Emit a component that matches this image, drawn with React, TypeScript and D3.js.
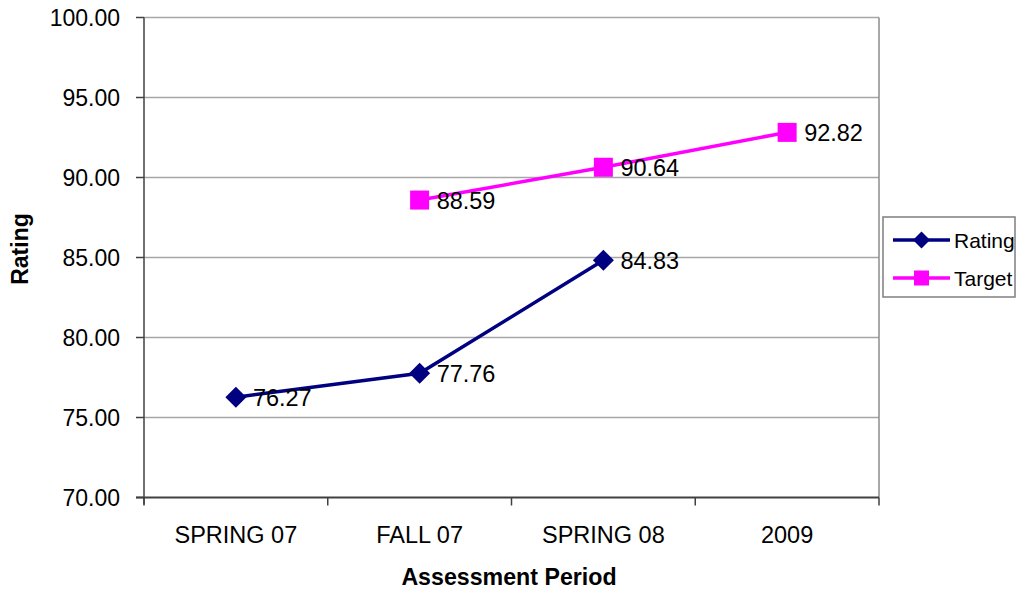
import React from "react";
import * as d3 from "d3";

const categories = ["SPRING 07", "FALL 07", "SPRING 08", "2009"];
const ratingValues: (number | null)[] = [76.27, 77.76, 84.83, null];
const targetValues: (number | null)[] = [null, 88.59, 90.64, 92.82];
const yTicks = [70, 75, 80, 85, 90, 95, 100];

const W = 1018;
const H = 594;
const plot = { left: 144, top: 17.5, right: 879, bottom: 497.5 };
const FONT = "Arial, 'Liberation Sans', Helvetica, sans-serif";
const NAVY = "#000080";
const MAGENTA = "#FF00FF";

export default function App() {
  const x = d3
    .scaleBand<string>()
    .domain(categories)
    .range([plot.left, plot.right])
    .paddingInner(0)
    .paddingOuter(0);
  const y = d3.scaleLinear().domain([70, 100]).range([plot.bottom, plot.top]);
  const cx = (c: string) => (x(c) as number) + x.bandwidth() / 2;

  type P = { c: string; v: number };
  const ratingPts: P[] = categories
    .map((c, i) => ({ c, v: ratingValues[i] as number }))
    .filter((d) => ratingValues[categories.indexOf(d.c)] !== null);
  const targetPts: P[] = categories
    .map((c, i) => ({ c, v: targetValues[i] as number }))
    .filter((d) => targetValues[categories.indexOf(d.c)] !== null);

  const line = d3
    .line<P>()
    .x((d) => cx(d.c))
    .y((d) => y(d.v));

  const boundaries = [...categories.map((c) => x(c) as number), plot.right];

  const diamond = (px: number, py: number, r: number) =>
    `M${px},${py - r}L${px + r},${py}L${px},${py + r}L${px - r},${py}Z`;

  return (
    <div style={{ position: "fixed", left: 0, top: 0 }}>
      <svg width={W} height={H} style={{ display: "block", background: "#fff" }} fontFamily={FONT}>
        {/* gridlines */}
        {yTicks
          .filter((t) => t !== 70)
          .map((t) => (
            <line key={t} x1={plot.left} x2={plot.right} y1={y(t)} y2={y(t)} stroke="#a6a6a6" strokeWidth={1.5} />
          ))}
        {/* right border */}
        <line x1={plot.right} x2={plot.right} y1={plot.top} y2={plot.bottom} stroke="#8c8c8c" strokeWidth={1.5} />
        {/* axes */}
        <line x1={plot.left} x2={plot.left} y1={plot.top} y2={plot.bottom + 7} stroke="#404040" strokeWidth={1.5} />
        <line x1={plot.left - 8} x2={plot.right} y1={plot.bottom} y2={plot.bottom} stroke="#404040" strokeWidth={2} />
        {yTicks.map((t) => (
          <g key={t}>
            <line x1={plot.left - 8} x2={plot.left} y1={y(t)} y2={y(t)} stroke="#404040" strokeWidth={1.5} />
            <text x={120} y={y(t)} dy="0.36em" textAnchor="end" fontSize={23} fill="#000">
              {t.toFixed(2)}
            </text>
          </g>
        ))}
        {boundaries.map((b, i) => (
          <line key={i} x1={b} x2={b} y1={plot.bottom} y2={plot.bottom + 8} stroke="#404040" strokeWidth={1.5} />
        ))}
        {categories.map((c) => (
          <text key={c} x={cx(c)} y={542.5} textAnchor="middle" fontSize={23.5} fill="#000">
            {c}
          </text>
        ))}
        {/* axis titles */}
        <text x={509} y={585} textAnchor="middle" fontSize={23.2} fontWeight="bold" fill="#000">
          Assessment Period
        </text>
        <text
          transform={`translate(27.5,249) rotate(-90)`}
          textAnchor="middle"
          fontSize={23}
          fontWeight="bold"
          fill="#000"
        >
          Rating
        </text>
        {/* lines */}
        <path d={line(targetPts) || ""} fill="none" stroke={MAGENTA} strokeWidth={3.5} />
        <path d={line(ratingPts) || ""} fill="none" stroke={NAVY} strokeWidth={3.5} />
        {targetPts.map((d) => (
          <rect key={d.c} x={cx(d.c) - 9.5} y={y(d.v) - 9.5} width={19} height={19} fill={MAGENTA} />
        ))}
        {ratingPts.map((d) => (
          <path key={d.c} d={diamond(cx(d.c), y(d.v), 10.5)} fill={NAVY} />
        ))}
        {/* data labels */}
        {targetPts.map((d) => (
          <text key={"t" + d.c} x={cx(d.c) + 17} y={y(d.v)} dy="0.36em" fontSize={23.5} fill="#000">
            {d.v.toFixed(2)}
          </text>
        ))}
        {ratingPts.map((d) => (
          <text key={"r" + d.c} x={cx(d.c) + 17} y={y(d.v)} dy="0.36em" fontSize={23.5} fill="#000">
            {d.v.toFixed(2)}
          </text>
        ))}
        {/* legend */}
        <rect x={883} y={217} width={132} height={80} fill="#fff" stroke="#7f7f7f" strokeWidth={1.5} />
        <line x1={893} x2={950} y1={240} y2={240} stroke={NAVY} strokeWidth={3.5} />
        <path d={diamond(921.5, 240, 8.5)} fill={NAVY} />
        <text x={954} y={240} dy="0.36em" fontSize={21} fill="#000">
          Rating
        </text>
        <line x1={893} x2={950} y1={278} y2={278} stroke={MAGENTA} strokeWidth={3.5} />
        <rect x={914} y={270.5} width={15} height={15} fill={MAGENTA} />
        <text x={954} y={278} dy="0.36em" fontSize={21} fill="#000">
          Target
        </text>
      </svg>
    </div>
  );
}
